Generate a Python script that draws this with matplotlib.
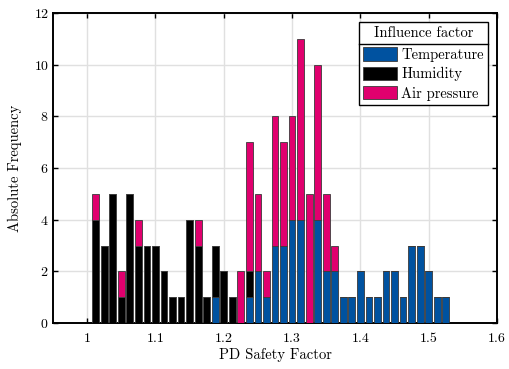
import numpy as np
import matplotlib
matplotlib.use("Agg")
import matplotlib.pyplot as plt
from matplotlib.lines import Line2D

plt.rcParams['font.family'] = 'serif'
plt.rcParams['font.serif'] = ['cmr10']
plt.rcParams['mathtext.fontset'] = 'cm'
plt.rcParams['axes.formatter.use_mathtext'] = True

# histogram bins (width 0.0125), counts per influence factor
bin_width = 0.0125
bin_centers = 1.0125 + bin_width * np.arange(42)

temperature = [0, 0, 0, 0, 0, 0, 0, 0, 0, 0, 0, 0, 0, 0, 1, 0, 0, 0, 1, 2, 1,
               3, 3, 4, 4, 0, 4, 2, 2, 1, 1, 2, 1, 1, 2, 2, 1, 3, 3, 2, 1, 1]
humidity = [4, 3, 5, 1, 5, 3, 3, 3, 2, 1, 1, 4, 3, 1, 2, 2, 1, 0, 1, 0, 0,
            0, 0, 0, 0, 0, 0, 0, 0, 0, 0, 0, 0, 0, 0, 0, 0, 0, 0, 0, 0, 0]
air_pressure = [1, 0, 0, 1, 0, 1, 0, 0, 0, 0, 0, 0, 1, 0, 0, 0, 0, 2, 5, 3, 1,
                5, 4, 4, 7, 5, 6, 3, 1, 0, 0, 0, 0, 0, 0, 0, 0, 0, 0, 0, 0, 0]

labels = ['Temperature', 'Humidity', 'Air pressure']
colors = ['#0052a0', '#000000', '#e0006e']
x_ticks = [1, 1.1, 1.2, 1.3, 1.4, 1.5, 1.6]
y_ticks = [0, 2, 4, 6, 8, 10, 12]

fig = plt.figure(figsize=(5.1, 3.69), dpi=100)
ax = fig.add_axes([53/510, 46/369, 444/510, 310/369])

bottom = np.zeros(len(bin_centers))
for vals, lab, col in zip([temperature, humidity, air_pressure], labels, colors):
    vals = np.array(vals)
    ax.bar(bin_centers, vals, width=bin_width*0.8, bottom=bottom, color=col,
           edgecolor='#3a3a3a', linewidth=0.6, label=lab, zorder=3)
    bottom += vals

ax.set_xlim(0.95, 1.6)
ax.set_ylim(0, 12)
ax.set_xticks(x_ticks)
ax.set_xticklabels(['%g' % t for t in x_ticks])
ax.set_yticks(y_ticks)
ax.grid(True, color='#e0e0e0', linewidth=1.0, zorder=0)
ax.tick_params(direction='in', top=True, right=True, length=3.5, width=1.0,
               labelsize=10)
ax.tick_params(axis='x', pad=7)
ax.tick_params(axis='y', pad=3)
for s in ax.spines.values():
    s.set_linewidth(1.4)

ax.set_xlabel('PD Safety Factor', fontsize=10.5, labelpad=2)
ax.set_ylabel('Absolute Frequency', fontsize=10.5, labelpad=8)

leg = ax.legend(title='Influence factor', loc='upper right', fontsize=10.5,
                title_fontsize=10.5, frameon=True, fancybox=False,
                edgecolor='black', framealpha=1, borderaxespad=0.6,
                handlelength=2.3, handleheight=1.0, handletextpad=0.3,
                labelspacing=0.33, borderpad=0.3)
leg.get_frame().set_linewidth(1.0)
leg.set_zorder(5)
leg._legend_box.sep = 5.5  # more room between title and entries

# separator line under legend title
fig.canvas.draw()
r = fig.canvas.get_renderer()
fb = leg.get_frame().get_window_extent(r)
tb = leg.get_title().get_window_extent(r)
hb = leg._legend_handle_box.get_window_extent(r)
ysep = 0.5 * (tb.y0 + hb.y1)
inv = fig.transFigure.inverted()
(x0, y0), (x1, _) = inv.transform([(fb.x0, ysep), (fb.x1, ysep)])
fig.add_artist(Line2D([x0, x1], [y0, y0], color='black', linewidth=1.0,
                      transform=fig.transFigure, zorder=10))

fig.savefig('out.png', dpi=100)
